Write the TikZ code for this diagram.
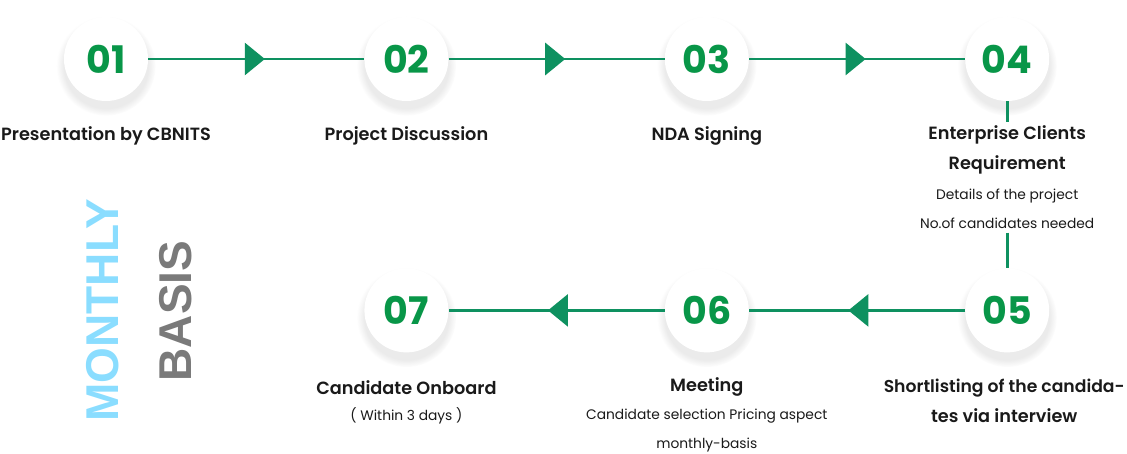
\documentclass[tikz,border=0pt]{standalone}
\usepackage{fontspec}
\setmainfont{Poppins}
\newfontfamily\popsemi{Poppins SemiBold}
\newfontfamily\popbold{Poppins Bold}
\newfontfamily\arialbf{Liberation Sans Bold}
\usetikzlibrary{arrows.meta,positioning,shadows,decorations.markings}
\definecolor{flowgreen}{RGB}{14,145,96}
\definecolor{numgreen}{RGB}{8,150,72}
\definecolor{ink}{RGB}{26,26,26}
\definecolor{skyblue}{RGB}{138,221,255}
\definecolor{greytxt}{RGB}{122,122,122}

\begin{document}
\begin{tikzpicture}[
  x=1pt,y=-1pt,
  stepcirc/.style={circle,fill=white,minimum size=84pt,inner sep=0pt,font=\popbold\fontsize{38}{38}\selectfont,text=numgreen,
    circular drop shadow={shadow xshift=0pt,shadow yshift=-6pt,shadow scale=1.18,fill=black!30,opacity=.25}},
  lab/.style={font=\popsemi\fontsize{17.7}{30}\selectfont,text=ink,align=center},
  note/.style={font=\fontsize{13.8}{29.5}\selectfont,text=ink,align=center},
  flow/.style={draw=flowgreen,line width=2.8pt,postaction={decorate},
    decoration={markings,mark=at position 0.54 with {\arrow{Triangle[length=20pt,width=32pt]}}}},
  link/.style={draw=flowgreen,line width=2.8pt},
  bigword/.style={rotate=90,font=\arialbf\fontsize{46}{46}\selectfont}]
  \useasboundingbox[fill=white] (0,0) rectangle (1127,454);
  % steps
  \node[stepcirc] (c1) at (106,59) {01};
  \node[stepcirc,right=216pt of c1] (c2) {02};
  \node[stepcirc,right=216pt of c2] (c3) {03};
  \node[stepcirc,right=216pt of c3] (c4) {04};
  \node[stepcirc,below=167pt of c4] (c5) {05};
  \node[stepcirc,left=216pt of c5] (c6) {06};
  \node[stepcirc,left=216pt of c6] (c7) {07};
  % texts
  \node[lab] (t1) at ([yshift=-77pt]c1.center) {Presentation by CBNITS};
  \node[lab] (t2) at ([yshift=-77pt]c2.center) {Project Discussion};
  \node[lab] (t3) at ([yshift=-77pt]c3.center) {NDA Signing};
  \node[lab] (t4) at ([yshift=-91pt]c4.center) {Enterprise Clients\\Requirement};
  \node[note] (d4) at ([yshift=-150pt]c4.center) {Details of the project\\No.of candidates needed};
  \node[lab,text depth=0pt] (t5) at ([yshift=-90pt,xshift=-3pt]c5.center) {\fontsize{17.2}{29}\selectfont Shortlisting of the candida-\\tes via interview};
  \node[lab] (t6) at ([yshift=-77pt]c6.center) {Meeting};
  \node[note] (d6) at ([yshift=-120pt]c6.center) {Candidate selection Pricing aspect\\monthly-basis};
  \node[lab] (t7) at ([yshift=-77pt]c7.center) {Candidate Onboard};
  \node[note] (d7) at ([yshift=-105pt]c7.center) {( Within 3 days )};
  \node[bigword,text=skyblue] (mon) at (103,310) {MONTHLY};
  \node[bigword,text=greytxt] (bas) at (176,311) {BASIS};
  % connectors
  \draw[flow] (c1) -- (c2);
  \draw[flow] (c2) -- (c3);
  \draw[flow] (c3) -- (c4);
  \draw[link] (c4) -- (t4);
  \draw[link] (d4) -- (c5);
  \draw[flow] (c5) -- (c6);
  \draw[flow] (c6) -- (c7);
\end{tikzpicture}
\end{document}
